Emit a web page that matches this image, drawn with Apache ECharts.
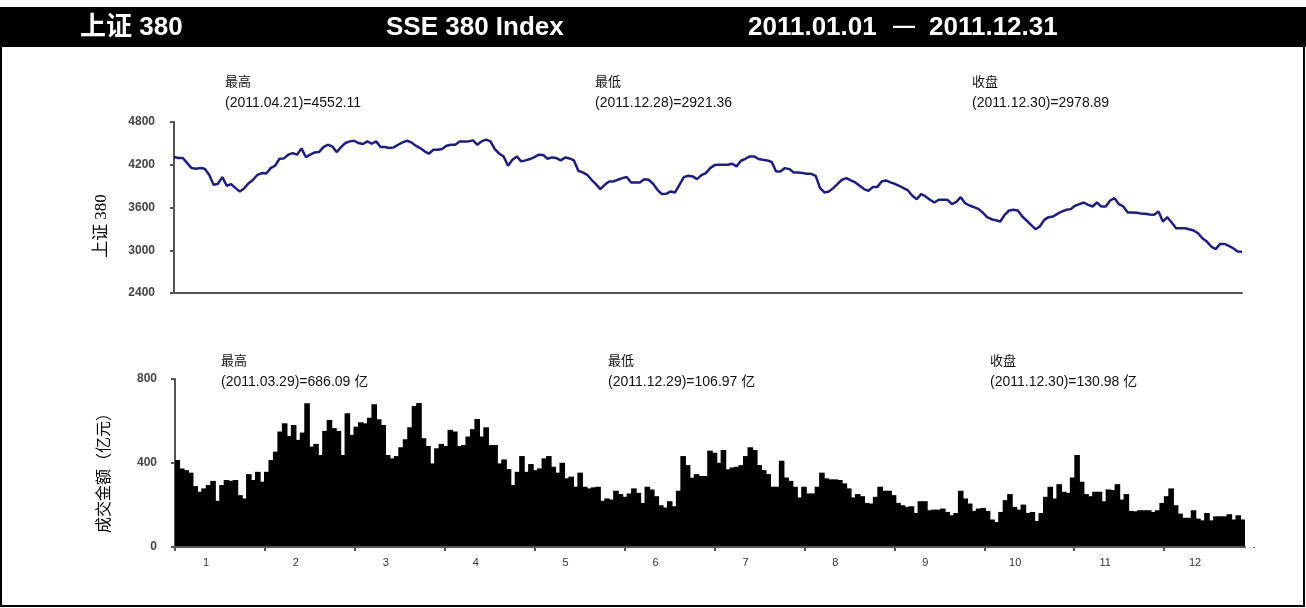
<!DOCTYPE html>
<html>
<head>
<meta charset="utf-8">
<script src="https://cdn.jsdelivr.net/npm/echarts@6/dist/echarts.min.js"></script>
<style>
html,body{margin:0;padding:0;background:#fff;}
#chart{width:1306px;height:608px;}
</style>
</head>
<body>
<div id="chart"></div>
<script>
// ---- data ----
const monthLabels = ['1','2','3','4','5','6','7','8','9','10','11','12'];
const yTicksIndex = [2400, 3000, 3600, 4200, 4800];
const yTicksVolume = [0, 400, 800];

// SSE 380 daily close (trading days of 2011)
const indexValues = [
4308,4294,4294,4223,4153,4144,4153,4144,4059,3919,3933,4027,3905,3928,3872,3825,3872,3942,3989,4059,
4083,4078,4153,4186,4284,4289,4341,4364,4341,4430,4308,4341,4373,4378,4448,4481,4458,4378,4448,4505,
4528,4537,4505,4491,4528,4495,4528,4448,4448,4434,4444,4481,4514,4537,4514,4467,4434,4388,4355,4411,
4411,4420,4467,4481,4481,4528,4528,4528,4542,4481,4528,4552.11,4528,4420,4355,4317,4186,4270,4317,4247,
4261,4280,4308,4341,4336,4284,4303,4294,4261,4303,4289,4261,4116,4092,4059,3989,3928,3858,3919,3966,
3966,3989,4012,4027,3952,3952,3952,3998,3989,3933,3848,3788,3792,3825,3811,3919,4027,4045,4036,3998,
4055,4083,4153,4195,4200,4200,4200,4214,4177,4256,4284,4317,4317,4280,4270,4261,4238,4106,4106,4153,
4139,4092,4092,4083,4073,4073,4045,3872,3811,3825,3872,3933,3989,4012,3980,3952,3905,3858,3834,3886,
3886,3966,3980,3952,3933,3905,3872,3839,3764,3717,3788,3755,3708,3670,3708,3708,3708,3647,3680,3745,
3661,3628,3605,3581,3530,3464,3436,3422,3403,3497,3558,3567,3558,3473,3417,3356,3295,3333,3427,3464,
3473,3511,3544,3567,3577,3623,3647,3670,3637,3614,3670,3614,3614,3698,3731,3647,3614,3530,3530,3525,
3516,3511,3502,3497,3544,3403,3464,3389,3309,3309,3309,3295,3277,3239,3169,3122,3052,3014,3089,3089,
3061,3028,2981,2978.89
];

// daily turnover (亿元)
const volumeValues = [
414,374,366,354,290,263,279,295,315,220,295,319,315,319,247,231,347,319,358,311,
358,414,454,550,589,529,581,510,545,685,478,491,438,553,605,566,553,438,637,534,
573,594,589,616,680,608,581,438,422,433,475,513,570,672,686.09,518,481,398,470,491,
481,558,550,481,486,526,561,610,526,570,486,486,398,417,371,295,358,433,358,395,
366,374,422,433,382,354,401,327,335,287,354,287,279,284,287,220,231,226,268,252,
239,255,279,258,210,287,274,242,199,188,218,194,268,433,390,330,347,338,338,459,
449,401,462,370,379,382,390,433,475,462,390,366,347,287,287,411,331,315,287,236,
287,255,255,287,354,327,322,322,319,303,279,236,252,242,210,207,239,287,268,268,
247,210,199,191,194,162,218,218,175,178,178,183,167,151,162,268,231,207,172,183,
186,172,131,119,167,223,252,191,178,202,162,167,124,162,239,287,231,299,263,258,
331,438,311,252,242,263,263,218,274,271,299,226,252,172,170,175,175,175,167,175,
210,242,279,199,159,139,139,175,135,127,162,127,146,146,146,156,131,151,130.98
];

const lineDays = indexValues.map((_, i) => String(i + 1));
const barDays = volumeValues.map((_, i) => String(i + 1));

// ---- chart ----
const chart = echarts.init(document.getElementById('chart'), null, {renderer: 'canvas'});
const AX = '#555';
const numFont = "'Liberation Sans', Arial, sans-serif";
const cjkFont = "'Liberation Sans', 'Noto Sans CJK SC', sans-serif";

function txt(x, y, s, size, opts) {
  return {
    type: 'text', x: x, y: y, silent: true,
    style: Object.assign({text: s, fill: '#111', font: size + 'px ' + cjkFont, textAlign: 'left', textVerticalAlign: 'middle'}, opts || {})
  };
}

const graphics = [
  {type: 'rect', shape: {x: 0, y: 7, width: 1306, height: 40}, style: {fill: '#000'}, silent: true},
  {type: 'rect', shape: {x: 1, y: 46, width: 1303, height: 560}, style: {fill: null, stroke: '#000', lineWidth: 2}, silent: true},
  {type: 'rect', shape: {x: 1249, y: 548, width: 10, height: 8}, style: {fill: '#fff'}, silent: true, z: 100},
  txt(80, 28, '上证 380', 26, {fill: '#fff', font: "bold 26px 'Liberation Sans', 'Noto Sans CJK SC', sans-serif"}),
  txt(386, 28, 'SSE 380 Index', 26, {fill: '#fff', font: "bold 26px 'Liberation Sans', sans-serif"}),
  txt(748, 28, '2011.01.01', 26, {fill: '#fff', font: "bold 26px 'Liberation Sans', sans-serif"}),
  txt(904, 27, '—', 26, {fill: '#fff', textAlign: 'center', font: "bold 22px 'Liberation Sans', sans-serif"}),
  txt(929, 28, '2011.12.31', 26, {fill: '#fff', font: "bold 26px 'Liberation Sans', sans-serif"}),
  // top annotations
  txt(225, 82, '最高', 13),
  txt(225, 103, '(2011.04.21)=4552.11', 14),
  txt(595, 82, '最低', 13),
  txt(595, 103, '(2011.12.28)=2921.36', 14),
  txt(972, 82, '收盘', 13),
  txt(972, 103, '(2011.12.30)=2978.89', 14),
  // bottom annotations
  txt(221, 361, '最高', 13),
  txt(221, 382, '(2011.03.29)=686.09 亿', 14),
  txt(608, 361, '最低', 13),
  txt(608, 382, '(2011.12.29)=106.97 亿', 14),
  txt(990, 361, '收盘', 13),
  txt(990, 382, '(2011.12.30)=130.98 亿', 14),
  // axis titles
  {type: 'text', x: 102, y: 226, rotation: Math.PI / 2, silent: true,
   style: {text: '上证 380', fill: '#000', font: "17px 'Liberation Serif', 'Noto Sans CJK SC', serif", textAlign: 'center', textVerticalAlign: 'middle'}},
  {type: 'text', x: 103, y: 469, rotation: Math.PI / 2, silent: true,
   style: {text: '成交金额（亿元）', fill: '#000', font: "16px 'Noto Sans CJK SC', sans-serif", textAlign: 'center', textVerticalAlign: 'middle'}}
];

const plain = v => String(v);

const option = {
  animation: false,
  backgroundColor: '#fff',
  grid: [
    {left: 174, top: 122, width: 1068, height: 171},
    {left: 175, top: 379, width: 1070, height: 168},
    {left: 175, top: 379, width: 1079, height: 168}
  ],
  xAxis: [
    {gridIndex: 0, type: 'category', data: lineDays, boundaryGap: false,
     axisLine: {lineStyle: {color: AX, width: 2}}, axisTick: {show: false}, axisLabel: {show: false}},
    {gridIndex: 1, type: 'category', data: barDays, boundaryGap: true, position: 'bottom', z: 5,
     axisLine: {lineStyle: {color: AX, width: 2}}, axisTick: {show: false}, axisLabel: {show: false}},
    {gridIndex: 2, type: 'category', data: monthLabels, boundaryGap: true, position: 'bottom',
     axisLine: {show: false},
     axisTick: {show: true, length: 4, lineStyle: {color: AX, width: 2}},
     axisLabel: {fontSize: 11, color: '#333', margin: 10, fontFamily: numFont, padding: [0, 28, 0, 0]}}
  ],
  yAxis: [
    {gridIndex: 0, type: 'value', min: yTicksIndex[0], max: yTicksIndex[yTicksIndex.length - 1], interval: 600,
     axisLine: {show: true, lineStyle: {color: AX, width: 2}},
     axisTick: {show: true, length: 4, lineStyle: {color: AX, width: 2}},
     splitLine: {show: false},
     axisLabel: {fontSize: 12, fontWeight: 'bold', color: '#444', margin: 19, fontFamily: numFont, formatter: plain}},
    {gridIndex: 1, type: 'value', min: yTicksVolume[0], max: yTicksVolume[yTicksVolume.length - 1], interval: 400,
     axisLine: {show: true, lineStyle: {color: AX, width: 2}},
     axisTick: {show: true, length: 4, lineStyle: {color: AX, width: 2}},
     splitLine: {show: false},
     axisLabel: {fontSize: 12, fontWeight: 'bold', color: '#444', margin: 18, fontFamily: numFont, formatter: plain}},
    {gridIndex: 2, type: 'value', min: 0, max: 800, show: false}
  ],
  series: [
    {type: 'line', xAxisIndex: 0, yAxisIndex: 0, data: indexValues, showSymbol: false,
     lineStyle: {color: '#1f1f7a', width: 2.5}, itemStyle: {color: '#1f1f7a'}},
    {type: 'bar', xAxisIndex: 1, yAxisIndex: 1, data: volumeValues, barWidth: 5.6,
     itemStyle: {color: '#000'}}
  ],
  graphic: graphics
};
chart.setOption(option);
</script>
</body>
</html>
